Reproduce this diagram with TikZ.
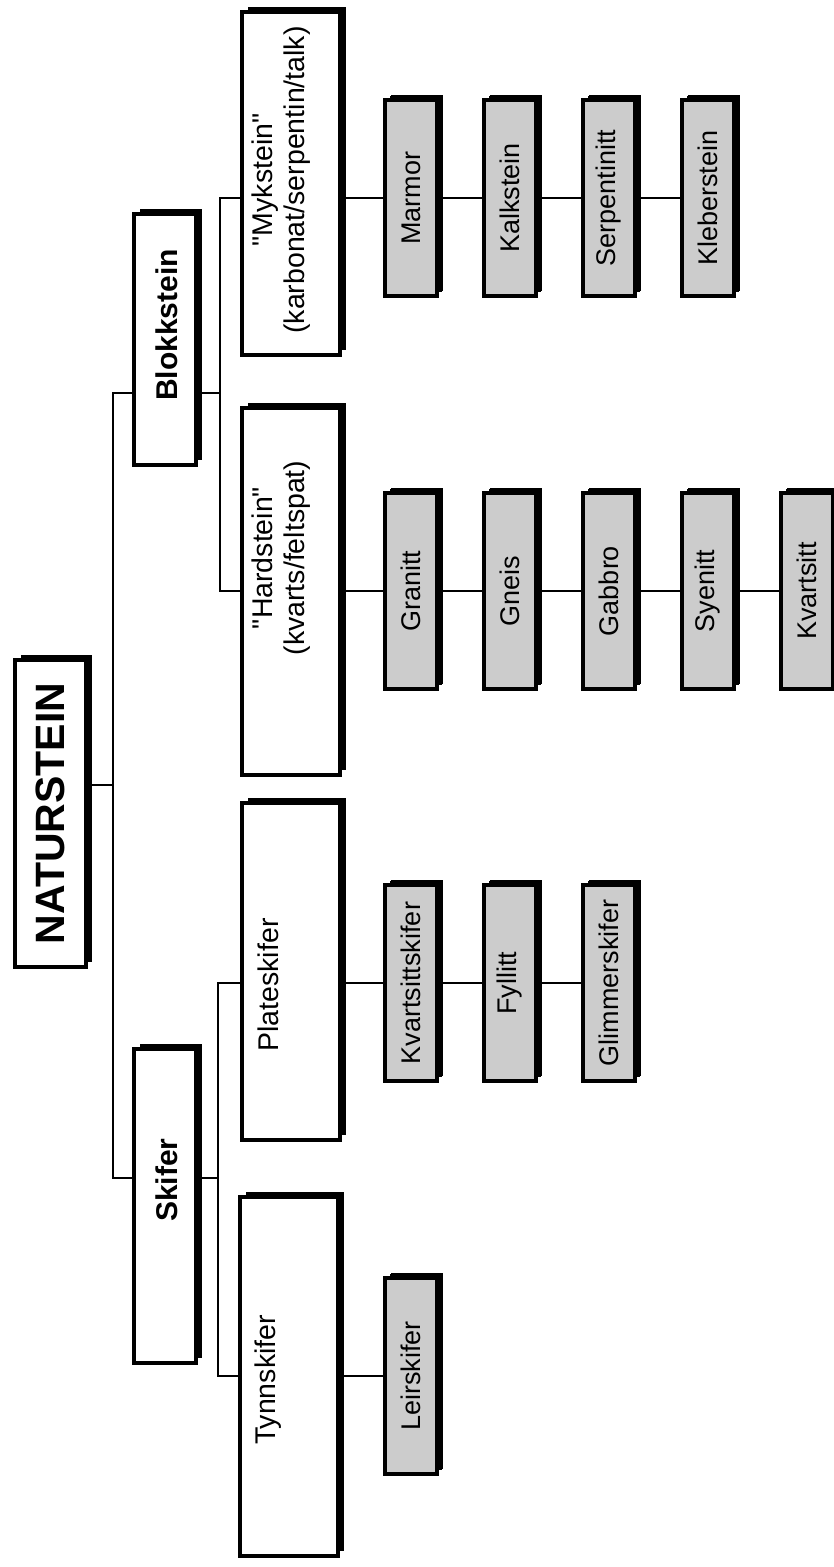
\documentclass[tikz,border=0pt]{standalone}
\usepackage{fontspec}
\setmainfont{Liberation Sans}[Ligatures=TeXOff]
\usetikzlibrary{shadows}
\begin{document}
\begin{tikzpicture}[x=1pt,y=-1pt,
  box/.style={draw=black, line width=3.5pt, fill=white, inner sep=0pt,
    drop shadow={shadow xshift=5.5pt, shadow yshift=5.5pt, opacity=1, fill=black}},
  leafbox/.style={box, fill=black!20, line width=3.2pt, minimum width=52pt, minimum height=196pt,
    drop shadow={shadow xshift=4.5pt, shadow yshift=4.5pt, opacity=1, fill=black}},
  conn/.style={draw=black, line width=2.6pt},
  thinconn/.style={draw=black, line width=2pt},
  toptext/.style={rotate=90, font=\bfseries\fontsize{41}{45}\selectfont, inner sep=0pt},
  midtext/.style={rotate=90, font=\bfseries\fontsize{30}{34}\selectfont, inner sep=0pt},
  subtext/.style={rotate=90, font=\fontsize{28.5}{32}\selectfont, inner sep=0pt, align=center},
  leaftext/.style={rotate=90, font=\fontsize{27}{30}\selectfont, inner sep=0pt}]
\useasboundingbox (0,0) rectangle (834,1567);

% level 0
\node[box, minimum width=71pt, minimum height=307pt] (nat) at (50.5,813.5) {};
\node[toptext] (natT) at (nat) {NATURSTEIN};

% level 1
\node[box, minimum width=62pt, minimum height=251pt] (blokk) at (165,339.5) {};
\node[midtext] (blokkT) at (167,325) {Blokkstein};
\node[box, minimum width=62pt, minimum height=314pt] (skifer) at (165,1206) {};
\node[midtext] (skiferT) at (167,1180) {Skifer};

% level 2
\node[box, minimum width=98pt, minimum height=343pt] (myk) at (291,183.5) {};
\node[subtext] (mykT) at (281,180) {"Mykstein"\\(karbonat/serpentin/talk)};
\node[box, minimum width=98pt, minimum height=367pt] (hard) at (291,591.5) {};
\node[subtext] (hardT) at (281,558) {"Hardstein"\\(kvarts/feltspat)};
\node[box, minimum width=98pt, minimum height=337pt] (plate) at (291,971.5) {};
\node[subtext] (plateT) at (268,985) {Plateskifer};
\node[box, minimum width=98pt, minimum height=359pt] (tynn) at (289,1376.5) {};
\node[subtext] (tynnT) at (268,1380) {Tynnskifer};

% leaves row 1
\node[leafbox] (marmor) at (411,198) {};
\node[leaftext] (marmorT) at (marmor) {Marmor};
\node[leafbox] (kalk) at (510,198) {};
\node[leaftext] (kalkT) at (kalk) {Kalkstein};
\node[leafbox] (serp) at (609,198) {};
\node[leaftext] (serpT) at (serp) {Serpentinitt};
\node[leafbox] (kleb) at (708,198) {};
\node[leaftext] (klebT) at (kleb) {Kleberstein};

% leaves row 2
\node[leafbox] (granitt) at (411,591) {};
\node[leaftext] (granittT) at (granitt) {Granitt};
\node[leafbox] (gneis) at (510,591) {};
\node[leaftext] (gneisT) at (gneis) {Gneis};
\node[leafbox] (gabbro) at (609,591) {};
\node[leaftext] (gabbroT) at (gabbro) {Gabbro};
\node[leafbox] (syenitt) at (708,591) {};
\node[leaftext] (syenittT) at (syenitt) {Syenitt};
\node[leafbox] (kvartsitt) at (807,591) {};
\node[leaftext] (kvartsittT) at (kvartsitt) {Kvartsitt};

% leaves row 3
\node[leafbox] (kvsk) at (411,983) {};
\node[leaftext] (kvskT) at (kvsk) {Kvartsittskifer};
\node[leafbox] (fyllitt) at (510,983) {};
\node[leaftext] (fyllittT) at (fyllitt) {Fyllitt};
\node[leafbox] (glimmer) at (609,983) {};
\node[leaftext] (glimmerT) at (glimmer) {Glimmerskifer};

% leaves row 4
\node[leafbox] (leir) at (411,1376) {};
\node[leaftext] (leirT) at (leir) {Leirskifer};

% trunk
\coordinate (trunkN) at (113,785);
\coordinate (trunkB) at (113,393);
\coordinate (trunkS) at (113,1178);
\draw[thinconn] (nat.east |- trunkN) -- (trunkN);
\draw[thinconn] (blokk.west |- trunkB) -- (trunkB) -- (trunkS) -- (skifer.west |- trunkS);

% Blokkstein branch
\coordinate (bv) at (220,393);
\draw[thinconn] (blokk.east |- bv) -- (bv);
\draw[thinconn] (myk.west |- marmor) -| (bv) |- (hard.west |- granitt);

% Skifer branch
\coordinate (sv) at (218,1178);
\draw[thinconn] (skifer.east |- sv) -- (sv);
\draw[thinconn] (plate.west |- kvsk) -| (sv) |- (tynn.west |- leir);

% leaf chains
\draw[conn] (myk.east |- marmor) -- (marmor.west);
\draw[conn] (marmor.east) -- (kalk.west);
\draw[conn] (kalk.east) -- (serp.west);
\draw[conn] (serp.east) -- (kleb.west);

\draw[conn] (hard.east |- granitt) -- (granitt.west);
\draw[conn] (granitt.east) -- (gneis.west);
\draw[conn] (gneis.east) -- (gabbro.west);
\draw[conn] (gabbro.east) -- (syenitt.west);
\draw[conn] (syenitt.east) -- (kvartsitt.west);

\draw[conn] (plate.east |- kvsk) -- (kvsk.west);
\draw[conn] (kvsk.east) -- (fyllitt.west);
\draw[conn] (fyllitt.east) -- (glimmer.west);

\draw[conn] (tynn.east |- leir) -- (leir.west);
\end{tikzpicture}
\end{document}
